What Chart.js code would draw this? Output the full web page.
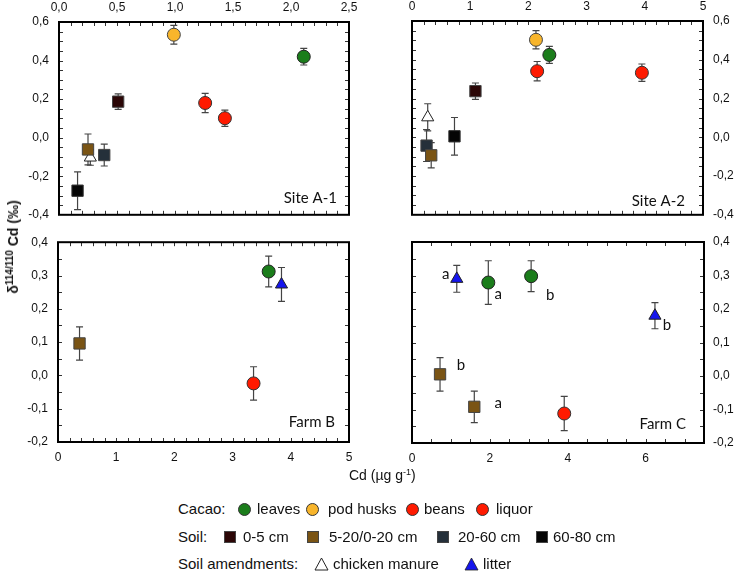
<!DOCTYPE html>
<html><head><meta charset="utf-8">
<script src="https://cdn.jsdelivr.net/npm/chart.js@4"></script>
<style>
body{margin:0;background:#fff;width:736px;height:572px;position:relative;overflow:hidden;font-family:'Liberation Sans',Arial,sans-serif;color:#111;}
canvas{position:absolute;}
.t{position:absolute;white-space:nowrap;font-size:15px;line-height:16px;}
.c{position:absolute;width:13px;height:13px;border-radius:50%;border:1px solid #333;box-sizing:border-box;}
.s{position:absolute;width:12px;height:12px;border:1px solid #444;box-sizing:border-box;}
#ytitle{position:absolute;left:13px;top:247px;transform:translate(-50%,-50%) rotate(-90deg);font-weight:bold;font-size:14px;white-space:nowrap;}
#ytitle sup{font-size:10px;vertical-align:5px;line-height:0;}
</style></head><body>
<canvas id="cA1" width="370" height="232" style="left:0;top:0"></canvas>
<canvas id="cA2" width="366" height="232" style="left:370px;top:0"></canvas>
<canvas id="cB" width="370" height="247" style="left:0;top:225px"></canvas>
<canvas id="cC" width="366" height="247" style="left:370px;top:225px"></canvas>
<div id="ytitle">δ<sup>114/110</sup> Cd (‰)</div>
<div class="t" style="left:349px;top:467px;font-size:14px;">Cd (µg g<sup style="font-size:9px;line-height:0;vertical-align:5px">-1</sup>)</div>
<!-- legend -->
<div class="t" style="left:178px;top:501px;">Cacao:</div>
<div class="c" style="left:238px;top:503px;background:#1b7d1b"></div>
<div class="t" style="left:257px;top:501px;">leaves</div>
<div class="c" style="left:306px;top:503px;background:#f8b52b"></div>
<div class="t" style="left:328px;top:501px;">pod husks</div>
<div class="c" style="left:406px;top:503px;background:#ff1a00"></div>
<div class="t" style="left:424px;top:501px;">beans</div>
<div class="c" style="left:476px;top:503px;background:#ff1a00"></div>
<div class="t" style="left:496px;top:501px;">liquor</div>
<div class="t" style="left:178px;top:529px;">Soil:</div>
<div class="s" style="left:224px;top:531px;background:#2b0606"></div>
<div class="t" style="left:243px;top:529px;">0-5 cm</div>
<div class="s" style="left:307px;top:531px;background:#7a5414"></div>
<div class="t" style="left:329px;top:529px;">5-20/0-20 cm</div>
<div class="s" style="left:437px;top:531px;background:#25303a"></div>
<div class="t" style="left:458px;top:529px;">20-60 cm</div>
<div class="s" style="left:536px;top:531px;background:#050505"></div>
<div class="t" style="left:553px;top:529px;">60-80 cm</div>
<div class="t" style="left:178px;top:556px;">Soil amendments:</div>
<svg style="position:absolute;left:314px;top:557px" width="15" height="14"><polygon points="7.5,1 14,13 1,13" fill="#fff" stroke="#222" stroke-width="1"/></svg>
<div class="t" style="left:333px;top:556px;">chicken manure</div>
<svg style="position:absolute;left:464px;top:557px" width="15" height="14"><polygon points="7.5,1 14,13 1,13" fill="#1515ee" stroke="#222" stroke-width="0.8"/></svg>
<div class="t" style="left:483px;top:556px;">litter</div>
<script>
// ===== DATA =====
// Site A-1
const siteA1Cat   = ['chicken manure','60-80 cm','20-60 cm','5-20/0-20 cm','0-5 cm','liquor','beans','pod husks','leaves'];
const siteA1Cd    = [0.27, 0.16, 0.39, 0.25, 0.51, 1.43, 1.26, 0.99, 2.11];
const siteA1Delta = [-0.103, -0.275, -0.09, -0.061, 0.187, 0.101, 0.18, 0.534, 0.42];
const siteA1Err   = [0.04, 0.098, 0.057, 0.08, 0.04, 0.042, 0.05, 0.049, 0.043];
// Site A-2
const siteA2Cat   = ['chicken manure','20-60 cm','5-20/0-20 cm','60-80 cm','0-5 cm','beans','liquor','leaves','pod husks'];
const siteA2Cd    = [0.27, 0.25, 0.33, 0.73, 1.09, 2.15, 3.95, 2.36, 2.13];
const siteA2Delta = [0.103, -0.043, -0.093, 0.005, 0.238, 0.341, 0.333, 0.425, 0.503];
const siteA2Err   = [0.07, 0.082, 0.065, 0.097, 0.042, 0.05, 0.045, 0.044, 0.047];
// Farm B
const farmBCat   = ['5-20/0-20 cm','litter','beans','leaves'];
const farmBCd    = [0.37, 3.84, 3.36, 3.62];
const farmBDelta = [0.096, 0.273, -0.024, 0.312];
const farmBErr   = [0.05, 0.051, 0.05, 0.046];
// Farm C
const farmCCat    = ['5-20/0-20 cm','5-20/0-20 cm','litter','litter','leaves','leaves','beans'];
const farmCCd     = [0.72, 1.60, 1.15, 6.24, 1.96, 3.06, 3.91];
const farmCDelta  = [0.005, -0.092, 0.29, 0.18, 0.279, 0.298, -0.112];
const farmCErr    = [0.05, 0.047, 0.04, 0.039, 0.065, 0.046, 0.051];
const farmCLetter = ['b','a','a','b','a','b',''];
// Panel names
const panelNames = ['Site A-1','Site A-2','Farm B','Farm C'];

// ===== STYLES =====
const catStyle = {
  'leaves':        {ps:'circle',  r:6.5, bg:'#1b7d1b', bd:'#222'},
  'pod husks':     {ps:'circle',  r:6.5, bg:'#f8b52b', bd:'#444'},
  'beans':         {ps:'circle',  r:6.5, bg:'#ff1a00', bd:'#333'},
  'liquor':        {ps:'circle',  r:6.5, bg:'#ff1a00', bd:'#333'},
  '0-5 cm':        {ps:'rect',    r:8,   bg:'#2b0606', bd:'#444'},
  '5-20/0-20 cm':  {ps:'rect',    r:8,   bg:'#7a5414', bd:'#444'},
  '20-60 cm':      {ps:'rect',    r:8,   bg:'#25303a', bd:'#444'},
  '60-80 cm':      {ps:'rect',    r:8,   bg:'#050505', bd:'#333'},
  'chicken manure':{ps:'triangle',r:7,   bg:'#ffffff', bd:'#222'},
  'litter':        {ps:'triangle',r:7,   bg:'#1515ee', bd:'#222'}
};
const letterOffsets = [[21,-9],[24,-4],[-11,-5],[12,9],[10,12],[19,19],[0,0]];

Chart.defaults.font.family = "'Liberation Sans', Arial, sans-serif";
Chart.defaults.color = '#111';

function makeDatasets(cats, xs, ys){
  return cats.map((c,i)=>{
    const s = catStyle[c];
    return {label:c, data:[{x:xs[i], y:ys[i]}], pointStyle:s.ps, pointRadius:s.r, pointHoverRadius:s.r,
      backgroundColor:s.bg, borderColor:s.bd, borderWidth:1, order: cats.length - i, clip:false};
  });
}
const comma1 = v => (Math.abs(v)<1e-9?0:v).toFixed(1).replace('.',',');
const intFmt = v => String(Math.round(v));

const framePlugin = {
  id:'frame',
  beforeDatasetsDraw(chart, args, o){
    const ctx = chart.ctx, a = chart.chartArea, xs = chart.scales.x, ys = chart.scales.y;
    ctx.save();
    ctx.strokeStyle = '#333'; ctx.lineWidth = 1;
    ctx.beginPath();
    const nx = Math.round((xs.max - xs.min)/o.xMinor);
    for(let k=1;k<nx;k++){ const p = Math.round(xs.getPixelForValue(xs.min + k*o.xMinor))+0.5;
      ctx.moveTo(p,a.top); ctx.lineTo(p,a.top+4); ctx.moveTo(p,a.bottom); ctx.lineTo(p,a.bottom-4); }
    const ny = Math.round((ys.max - ys.min)/o.yMinor);
    for(let k=1;k<ny;k++){ const p = Math.round(ys.getPixelForValue(ys.min + k*o.yMinor))+0.5;
      ctx.moveTo(a.left,p); ctx.lineTo(a.left+4,p); ctx.moveTo(a.right,p); ctx.lineTo(a.right-4,p); }
    ctx.stroke();
    ctx.strokeStyle = '#000'; ctx.lineWidth = 2;
    ctx.strokeRect(a.left, a.top, a.right-a.left, a.bottom-a.top);
    ctx.strokeStyle = '#444'; ctx.lineWidth = 1.2;
    chart.data.datasets.forEach((ds,i)=>{
      const el = chart.getDatasetMeta(i).data[0];
      const v = ds.data[0].y, e = o.errors[i];
      const x = el.x, y1 = ys.getPixelForValue(v+e), y2 = ys.getPixelForValue(v-e);
      ctx.beginPath();
      ctx.moveTo(x,y1); ctx.lineTo(x,y2);
      ctx.moveTo(x-3.5,y1); ctx.lineTo(x+3.5,y1);
      ctx.moveTo(x-3.5,y2); ctx.lineTo(x+3.5,y2);
      ctx.stroke();
    });
    ctx.restore();
  },
  afterDatasetsDraw(chart, args, o){
    const ctx = chart.ctx, a = chart.chartArea;
    ctx.save();
    ctx.fillStyle = '#111';
    ctx.font = "15px Lato, 'Open Sans', sans-serif";
    ctx.textAlign = 'right'; ctx.textBaseline = 'alphabetic';
    ctx.fillText(o.label, a.right - o.inset[0], a.bottom - o.inset[1]);
    if (o.letters){
      ctx.textAlign = 'center'; ctx.textBaseline = 'middle';
      o.letters.forEach((L,i)=>{
        if(!L) return;
        const el = chart.getDatasetMeta(i).data[0];
        ctx.fillText(L, el.x + letterOffsets[i][0], el.y + letterOffsets[i][1]);
      });
    }
    ctx.restore();
  }
};

function makeChart(id, cfg){
  const tickFont = {size:12};
  return new Chart(document.getElementById(id), {
    type:'scatter',
    data:{datasets: makeDatasets(cfg.cats, cfg.xs, cfg.ys)},
    options:{
      responsive:false, animation:false, events:[],
      layout:{padding:cfg.pad},
      plugins:{legend:{display:false}, tooltip:{enabled:false},
        frame:{xMinor:cfg.xMinor, yMinor:cfg.yMinor, errors:cfg.errs, label:cfg.label, inset:cfg.inset, letters:cfg.letters}},
      scales:{
        x:{type:'linear', position:cfg.xPos, min:cfg.xMin, max:cfg.xMax,
          grid:{display:false, drawTicks:false}, border:{display:false},
          ticks:{stepSize:cfg.xStep, padding:cfg.xPad, font:tickFont, includeBounds:false, maxRotation:0,
            callback:cfg.xFmt, color:'#111'},
          afterFit:s=>{s.height = cfg.xH;}},
        y:{type:'linear', position:cfg.yPos, min:cfg.yMin, max:cfg.yMax,
          grid:{display:false, drawTicks:false}, border:{display:false},
          ticks:{stepSize:cfg.yStep, padding:cfg.yPad, font:tickFont, callback:comma1, color:'#111'},
          afterFit:s=>{s.width = cfg.yW;}}
      }
    },
    plugins:[framePlugin]
  });
}

makeChart('cA1', {cats:siteA1Cat, xs:siteA1Cd, ys:siteA1Delta, errs:siteA1Err, label:panelNames[0], inset:[12,12],
  pad:{left:0,top:0,right:21,bottom:15}, xPos:'top', xMin:0, xMax:2.5, xStep:0.5, xMinor:0.1, xFmt:comma1, xPad:7, xH:22,
  yPos:'left', yMin:-0.4, yMax:0.6, yStep:0.2, yMinor:0.05, yPad:10, yW:59});
makeChart('cA2', {cats:siteA2Cat, xs:siteA2Cd, ys:siteA2Delta, errs:siteA2Err, label:panelNames[1], inset:[18,9],
  pad:{left:42,top:0,right:0,bottom:17}, xPos:'top', xMin:0, xMax:5, xStep:1, xMinor:0.2, xFmt:intFmt, xPad:7, xH:21,
  yPos:'right', yMin:-0.4, yMax:0.6, yStep:0.2, yMinor:0.05, yPad:10, yW:33});
makeChart('cB', {cats:farmBCat, xs:farmBCd, ys:farmBDelta, errs:farmBErr, label:panelNames[2], inset:[14,15],
  pad:{left:0,top:14,right:21,bottom:0}, xPos:'bottom', xMin:0, xMax:5, xStep:1, xMinor:0.2, xFmt:intFmt, xPad:8, xH:30,
  yPos:'left', yMin:-0.2, yMax:0.4, yStep:0.1, yMinor:0.05, yPad:10, yW:58});
makeChart('cC', {cats:farmCCat, xs:farmCCd, ys:farmCDelta, errs:farmCErr, label:panelNames[3], inset:[18,14], letters:farmCLetter,
  pad:{left:42,top:17,right:0,bottom:0}, xPos:'bottom', xMin:0, xMax:7.5, xStep:2, xMinor:0.5, xFmt:intFmt, xPad:8, xH:29,
  yPos:'right', yMin:-0.2, yMax:0.4, yStep:0.1, yMinor:0.05, yPad:9, yW:32});
</script>
</body></html>
